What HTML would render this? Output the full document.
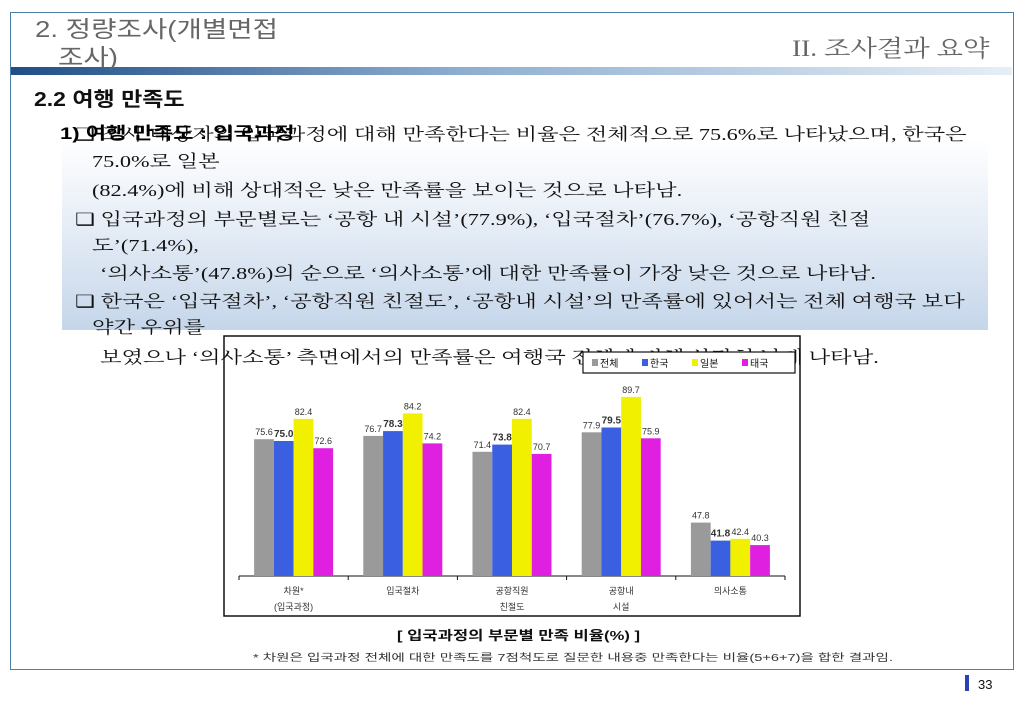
<!DOCTYPE html>
<html><head><meta charset="utf-8">
<style>
body{margin:0;width:1023px;height:708px;background:#fff;position:relative;overflow:hidden;font-family:"Liberation Serif","Noto Serif CJK KR","Noto Sans CJK KR",serif;}
.abs{position:absolute;white-space:nowrap;}
.t{font-size:17px;color:#111;transform:scaleX(1.31);transform-origin:0 0;}
</style></head><body>
<div class="abs" style="left:10px;top:12px;width:1002px;height:656px;border:1px solid #4a7fa6;"></div>
<div class="abs" style="left:11px;top:67px;width:1001px;height:8px;background:linear-gradient(90deg,#1f4e86,#8eaed0 45%,#e6eef6);"></div>
<div class="abs" style="left:35px;top:15px;font-size:23px;color:#666;line-height:28px;font-family:'Liberation Sans','Noto Sans CJK KR',sans-serif;transform:scaleX(1.2);transform-origin:0 0;">2. 정량조사(개별면접<br>&nbsp;&nbsp;&nbsp;조사)</div>
<div class="abs" style="left:792px;top:30px;font-size:23px;color:#666;transform:scaleX(1.19);transform-origin:0 0;">II. 조사결과 요약</div>
<div class="abs" style="left:34px;top:83px;font-size:20px;color:#111;font-weight:bold;font-family:'Liberation Sans','Noto Sans CJK KR',sans-serif;transform:scaleX(1.15);transform-origin:0 0;">2.2 여행 만족도</div>
<div class="abs" style="left:62px;top:140px;width:926px;height:190px;background:linear-gradient(180deg,#ffffff,#e3ebf5 50%,#c5d6ea);"></div>
<div class="abs t" style="left:75px;top:120px;">❑ 조사 대상자의 입국과정에 대해 만족한다는 비율은 전체적으로 75.6%로 나타났으며, 한국은</div>
<div class="abs" style="left:60px;top:119px;font-size:17px;font-weight:bold;font-family:'Liberation Sans','Noto Sans CJK KR',sans-serif;transform:scaleX(1.3);transform-origin:0 0;">1) 여행 만족도 : 입국과정</div>
<div class="abs t" style="left:92px;top:147px;">75.0%로 일본</div>
<div class="abs t" style="left:92px;top:176px;">(82.4%)에 비해 상대적은 낮은 만족률을 보이는 것으로 나타남.</div>
<div class="abs t" style="left:75px;top:205px;">❑ 입국과정의 부문별로는 ‘공항 내 시설’(77.9%), ‘입국절차’(76.7%), ‘공항직원 친절</div>
<div class="abs t" style="left:92px;top:231px;">도’(71.4%),</div>
<div class="abs t" style="left:100px;top:259px;">‘의사소통’(47.8%)의 순으로 ‘의사소통’에 대한 만족률이 가장 낮은 것으로 나타남.</div>
<div class="abs t" style="left:75px;top:287px;">❑ 한국은 ‘입국절차’, ‘공항직원 친절도’, ‘공항내 시설’의 만족률에 있어서는 전체 여행국 보다</div>
<div class="abs t" style="left:92px;top:313px;">약간 우위를</div>
<div class="abs t" style="left:100px;top:343px;">보였으나 ‘의사소통’ 측면에서의 만족률은 여행국 전체에 비해 상당히 낮게 나타남.</div>

<svg id="chart" class="abs" style="left:0;top:0;" width="1023" height="708" font-family="'Liberation Sans','Noto Sans CJK KR',sans-serif">
<rect x="224" y="336" width="576" height="280" fill="none" stroke="#111" stroke-width="1.5"/>
<g id="bars"></g>
<rect x="583" y="352" width="212" height="21" fill="#fff" stroke="#111" stroke-width="1.2"/>
<g id="legend"></g>
<text x="397" y="640" font-size="13" textLength="243" lengthAdjust="spacingAndGlyphs" font-weight="bold" fill="#111">[ 입국과정의 부문별 만족 비율(%) ]</text>
<text x="253" y="661" font-size="10" textLength="640" lengthAdjust="spacingAndGlyphs" fill="#333">* 차원은 입국과정 전체에 대한 만족도를 7점척도로 질문한 내용중 만족한다는 비율(5+6+7)을 합한 결과임.</text>
<rect x="965" y="675" width="4" height="16" fill="#2b3fb8"/>
<text x="978" y="689" font-size="13" fill="#111">33</text>
</svg>
<script>
const categories=[["차원*","(입국과정)"],["입국절차"],["공항직원","친절도"],["공항내","시설"],["의사소통"]];
const seriesNames=["전체","한국","일본","태국"];
const total=[75.6,76.7,71.4,77.9,47.8];
const korea=[75.0,78.3,73.8,79.5,41.8];
const japan=[82.4,84.2,82.4,89.7,42.4];
const thai=[72.6,74.2,70.7,75.9,40.3];
const series=[total,korea,japan,thai];
const colors=["#9a9a9a","#3a5fe0","#f0f000","#e020e0"];
const NS="http://www.w3.org/2000/svg";
const x0=239,x1=785,base=576,yMin=30,pxPer=3;
const y=v=>base-(v-yMin)*pxPer;
const gw=(x1-x0)/categories.length, bw=19.75;
const g=document.getElementById('bars');
function mk(t,a){const e=document.createElementNS(NS,t);for(const k in a)e.setAttribute(k,a[k]);return e;}
const ax=mk('line',{x1:x0,x2:x1,y1:base,y2:base,stroke:'#111','stroke-width':1});


g.appendChild(ax);
for(let i=0;i<=categories.length;i++){
  const tk=mk('line',{x1:x0+gw*i,x2:x0+gw*i,y1:base,y2:base+4,stroke:'#111'});
  
  
  g.appendChild(tk);
}
categories.forEach((c,i)=>{
  const cx=x0+gw*(i+0.5);
  series.forEach((s,j)=>{
    const bx=cx-2*bw+j*bw;
    const r=mk('rect',{x:bx,y:y(s[i]),width:bw,height:base-y(s[i]),fill:colors[j]});
    
    
    g.appendChild(r);
    const t=mk('text',{x:bx+bw/2,y:y(s[i])-4,'font-size':j==1?10:9,'text-anchor':'middle',fill:'#333','font-weight':j==1?'bold':'normal'});
    t.textContent=s[i].toFixed(1);
    
    
    g.appendChild(t);
  });
  c.forEach((ln,k)=>{
    const t=mk('text',{x:cx,y:594+k*16,'font-size':9,'text-anchor':'middle',fill:'#333'});
    t.textContent=ln;
    
    
    g.appendChild(t);
  });
});
const lg=document.getElementById('legend');
seriesNames.forEach((n,j)=>{
  const lx=592+j*50;
  const r=mk('rect',{x:lx,y:359,width:6,height:7,fill:colors[j]});
  
  
  lg.appendChild(r);
  const t=mk('text',{x:lx+8,y:367,'font-size':10,fill:'#111'});
  t.textContent=n;
  
  
  lg.appendChild(t);
});
</script>
</body></html>
